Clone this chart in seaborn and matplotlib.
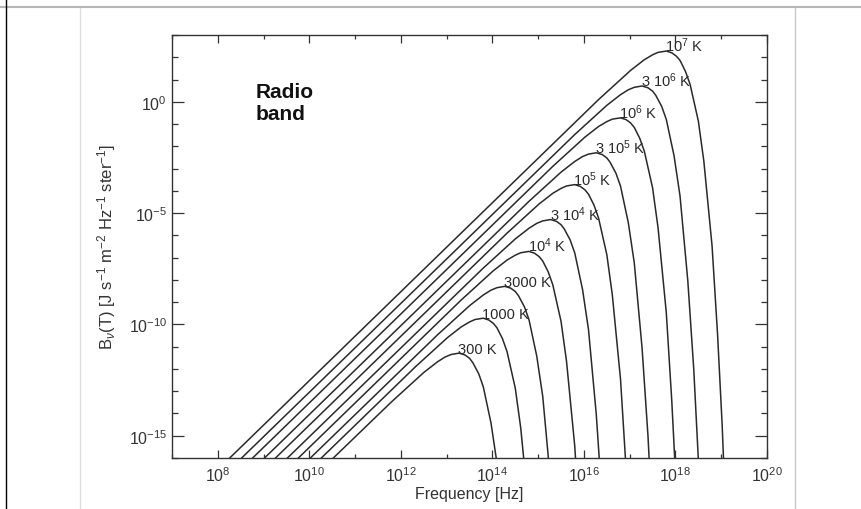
import matplotlib

matplotlib.use("Agg")
import matplotlib.pyplot as plt
import matplotlib.ticker as mticker
import pandas as pd
import seaborn as sns
from matplotlib.lines import Line2D

# log10 of frequency [Hz] and log10 of B_nu [J s-1 m-2 Hz-1 ster-1]
nu_300 = [10.02, 11.80, 12.50, 12.80, 12.97, 13.10, 13.27, 13.40, 13.50, 13.57, 13.70, 13.80, 13.97, 14.10]
b_300 = [-17.0, -13.47, -12.16, -11.68, -11.46, -11.35, -11.29, -11.37, -11.52, -11.71, -12.21, -12.79, -14.43, -16.23]

nu_1000 = [9.76, 12.32, 13.02, 13.32, 13.50, 13.62, 13.80, 13.92, 14.02, 14.10, 14.22, 14.32, 14.50, 14.62, 14.80]
b_1000 = [-17.0, -11.90, -10.59, -10.11, -9.89, -9.78, -9.72, -9.80, -9.95, -10.15, -10.64, -11.22, -12.86, -14.66, -18.47]

nu_3000 = [9.52, 12.80, 13.50, 13.80, 13.97, 14.10, 14.27, 14.40, 14.50, 14.57, 14.70, 14.80, 14.97, 15.10, 15.27]
b_3000 = [-17.0, -10.47, -9.16, -8.68, -8.46, -8.35, -8.29, -8.37, -8.52, -8.71, -9.21, -9.79, -11.43, -13.23, -17.04]

nu_1e4 = [9.26, 13.32, 14.02, 14.32, 14.50, 14.62, 14.80, 14.92, 15.02, 15.10, 15.22, 15.32, 15.50, 15.62, 15.80, 15.92]
b_1e4 = [-17.0, -8.90, -7.59, -7.11, -6.89, -6.78, -6.72, -6.80, -6.95, -7.15, -7.64, -8.22, -9.86, -11.66, -15.47, -19.44]

nu_3e4 = [9.02, 13.80, 14.50, 14.80, 14.97, 15.10, 15.27, 15.40, 15.50, 15.57, 15.70, 15.80, 15.97, 16.10, 16.27, 16.40]
b_3e4 = [-17.0, -7.47, -6.16, -5.68, -5.46, -5.35, -5.29, -5.37, -5.52, -5.71, -6.21, -6.79, -8.43, -10.23, -14.04, -18.01]

nu_1e5 = [8.76, 14.32, 15.02, 15.32, 15.50, 15.62, 15.80, 15.92, 16.02, 16.10, 16.22, 16.32, 16.50, 16.62, 16.80, 16.92]
b_1e5 = [-17.0, -5.90, -4.59, -4.11, -3.89, -3.78, -3.72, -3.80, -3.95, -4.15, -4.64, -5.22, -6.86, -8.66, -12.47, -16.44]

nu_3e5 = [8.52, 14.80, 15.50, 15.80, 15.97, 16.10, 16.27, 16.40, 16.50, 16.57, 16.70, 16.80, 16.97, 17.10, 17.27, 17.40, 17.50]
b_3e5 = [-17.0, -4.47, -3.16, -2.68, -2.46, -2.35, -2.29, -2.37, -2.52, -2.71, -3.21, -3.79, -5.43, -7.23, -11.04, -15.01, -19.06]

nu_1e6 = [8.26, 15.32, 16.02, 16.32, 16.50, 16.62, 16.80, 16.92, 17.02, 17.10, 17.22, 17.32, 17.50, 17.62, 17.80, 17.92, 18.02]
b_1e6 = [-17.0, -2.90, -1.59, -1.11, -0.89, -0.78, -0.72, -0.80, -0.95, -1.15, -1.64, -2.22, -3.86, -5.66, -9.47, -13.44, -17.49]

nu_3e6 = [8.02, 15.80, 16.50, 16.80, 16.97, 17.10, 17.27, 17.40, 17.50, 17.57, 17.70, 17.80, 17.97, 18.10, 18.27, 18.40, 18.50]
b_3e6 = [-17.0, -1.47, -0.16, 0.32, 0.54, 0.65, 0.71, 0.63, 0.48, 0.29, -0.21, -0.79, -2.43, -4.23, -8.04, -12.01, -16.06]

nu_1e7 = [7.76, 16.32, 17.02, 17.32, 17.50, 17.62, 17.80, 17.92, 18.02, 18.10, 18.22, 18.32, 18.50, 18.62, 18.80, 18.92, 19.02, 19.10]
b_1e7 = [-17.0, 0.10, 1.41, 1.89, 2.11, 2.22, 2.28, 2.20, 2.05, 1.86, 1.36, 0.78, -0.86, -2.66, -6.47, -10.44, -14.49, -18.60]

temp_labels = ["300 K", "1000 K", "3000 K", "10$^4$ K", "3 10$^4$ K",
               "10$^5$ K", "3 10$^5$ K", "10$^6$ K", "3 10$^6$ K", "10$^7$ K"]
# label anchors sit on each curve's peak (log10 values)
peak_nu = [13.25, 13.77, 14.25, 14.77, 15.25, 15.77, 16.25, 16.77, 17.25, 17.77]
peak_b = [-11.29, -9.72, -8.29, -6.72, -5.29, -3.72, -2.29, -0.72, 0.71, 2.28]

x_major = [8, 10, 12, 14, 16, 18, 20]
x_minor = [7, 9, 11, 13, 15, 17, 19]
y_major = [-15, -10, -5, 0]
y_minor = list(range(-16, 4))

sns.set_theme(style="ticks")
plt.rcParams["font.family"] = ["Liberation Sans", "DejaVu Sans"]
plt.rcParams["mathtext.fontset"] = "custom"
plt.rcParams["mathtext.rm"] = "Liberation Sans"
plt.rcParams["mathtext.it"] = "Liberation Sans:italic"

curves = [
    (nu_300, b_300), (nu_1000, b_1000), (nu_3000, b_3000), (nu_1e4, b_1e4), (nu_3e4, b_3e4),
    (nu_1e5, b_1e5), (nu_3e5, b_3e5), (nu_1e6, b_1e6), (nu_3e6, b_3e6), (nu_1e7, b_1e7),
]
rows = []
for label, (nus, bs) in zip(temp_labels, curves):
    for n, b in zip(nus, bs):
        rows.append({"curve": label, "nu": 10.0 ** n, "B": 10.0 ** b})
df = pd.DataFrame(rows)

fig = plt.figure(figsize=(8.61, 5.10), dpi=100)
ax = fig.add_axes([0.1998, 0.1, 0.691, 0.8294])
ax.set_xscale("log")
ax.set_yscale("log")

sns.lineplot(data=df, x="nu", y="B", units="curve", estimator=None, sort=False,
             color="#2a2a2a", linewidth=1.1, ax=ax)

for label, n, b in zip(temp_labels, peak_nu, peak_b):
    ax.text(10.0 ** n, 10.0 ** b, label, ha="left", va="baseline", fontsize=10.5, color="#2a2a2a")

ax.text(0.141, 0.888, "Radio\nband", transform=ax.transAxes, ha="left", va="top",
        fontsize=15, fontweight="bold", color="#111111", linespacing=1.15)

ax.set_xlim(1e7, 1e20)
ax.set_ylim(1e-16, 1e3)
ax.xaxis.set_major_locator(mticker.FixedLocator([10.0 ** k for k in x_major]))
ax.xaxis.set_minor_locator(mticker.FixedLocator([10.0 ** k for k in x_minor]))
ax.yaxis.set_major_locator(mticker.FixedLocator([10.0 ** k for k in y_major]))
ax.yaxis.set_minor_locator(mticker.FixedLocator([10.0 ** k for k in y_minor]))
ax.xaxis.set_major_formatter(mticker.LogFormatterMathtext())
ax.yaxis.set_major_formatter(mticker.LogFormatterMathtext())
ax.xaxis.set_minor_formatter(mticker.NullFormatter())
ax.yaxis.set_minor_formatter(mticker.NullFormatter())

ax.tick_params(axis="both", which="both", direction="in", top=True, right=True,
               color="#333333", labelcolor="#333333", labelsize=11.5)
ax.tick_params(axis="x", which="major", length=6, width=0.9, pad=5)
ax.tick_params(axis="x", which="minor", length=3, width=0.9)
ax.tick_params(axis="y", which="major", length=8.6, width=0.9, pad=3.5)
ax.tick_params(axis="y", which="minor", length=4.3, width=0.9)
for spine in ax.spines.values():
    spine.set_visible(True)
    spine.set_color("#333333")
    spine.set_linewidth(1.0)

ax.set_xlabel("Frequency [Hz]", fontsize=11.5, color="#333333", labelpad=2)
ax.set_ylabel(r"B$_\nu$(T) [J s$^{-1}$ m$^{-2}$ Hz$^{-1}$ ster$^{-1}$]", fontsize=12,
              color="#333333", labelpad=8)

# frame lines of the surrounding screenshot
fig.add_artist(Line2D([0, 1], [0.984, 0.984], color="#b5b5b5", lw=1.5, transform=fig.transFigure))
fig.add_artist(Line2D([0.093, 0.093], [0, 0.982], color="#dcdcdc", lw=1.0, transform=fig.transFigure))
fig.add_artist(Line2D([0.923, 0.923], [0, 0.982], color="#c8c8c8", lw=1.0, transform=fig.transFigure))
fig.add_artist(Line2D([0.007, 0.007], [0, 1], color="#000000", lw=1.0, transform=fig.transFigure))

fig.savefig("out.png", dpi=100)
plt.close(fig)
